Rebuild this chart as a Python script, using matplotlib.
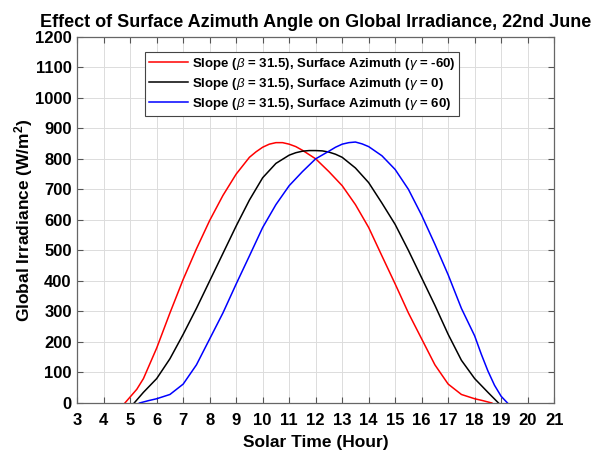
import numpy as np
from matplotlib import pyplot as plt

plt.rcParams['font.family'] = ['Liberation Sans', 'DejaVu Sans']
plt.rcParams['mathtext.fontset'] = 'custom'
plt.rcParams['mathtext.rm'] = 'Liberation Sans:bold'
plt.rcParams['mathtext.it'] = 'Liberation Sans:italic'
plt.rcParams['mathtext.bf'] = 'Liberation Sans:bold'

# solar time (hour) and global irradiance (W/m^2)
timeWest = [4.8, 5.0, 5.25, 5.5, 5.75, 6.0, 6.5, 7.0, 7.5, 8.0, 8.5, 9.0, 9.5,
            9.75, 10.0, 10.25, 10.5, 10.75, 11.0, 11.25, 11.5, 12.0, 12.5, 13.0,
            13.5, 14.0, 14.5, 15.0, 15.5, 16.0, 16.5, 17.0, 17.5, 18.0, 18.3, 18.65]
irrWest = [0, 20, 45, 80, 130, 180, 295, 405, 505, 598, 680, 750, 805,
           823, 838, 848, 853, 853, 848, 840, 828, 800, 758, 712,
           650, 575, 482, 390, 295, 210, 125, 62, 28, 14, 8, 0]

timeSouth = [5.15, 5.5, 6.0, 6.5, 7.0, 7.5, 8.0, 8.5, 9.0, 9.5, 10.0, 10.5,
             11.0, 11.25, 11.5, 11.75, 12.0, 12.25, 12.5, 12.75, 13.0, 13.5,
             14.0, 14.5, 15.0, 15.5, 16.0, 16.5, 17.0, 17.5, 18.0, 18.5, 18.9]
irrSouth = [0, 35, 80, 145, 225, 310, 400, 490, 580, 665, 738, 785,
            812, 820, 825, 827, 827, 826, 822, 815, 805, 770,
            722, 655, 585, 500, 410, 320, 225, 140, 80, 35, 0]

timeEast = [5.35, 5.7, 6.0, 6.5, 7.0, 7.5, 8.0, 8.5, 9.0, 9.5, 10.0, 10.5,
            11.0, 11.5, 12.0, 12.5, 12.75, 13.0, 13.25, 13.5, 13.75, 14.0,
            14.5, 15.0, 15.5, 16.0, 16.5, 17.0, 17.5, 18.0, 18.25, 18.5,
            18.75, 19.0, 19.24]
irrEast = [0, 8, 14, 28, 62, 125, 210, 295, 390, 482, 575, 650,
           712, 758, 800, 825, 838, 848, 853, 855, 849, 840,
           810, 765, 700, 615, 520, 420, 310, 220, 160, 105,
           58, 22, 0]

labels = [r'Slope ($\beta$ = 31.5), Surface Azimuth ($\gamma$ = -60)',
          r'Slope ($\beta$ = 31.5), Surface Azimuth ($\gamma$ = 0)',
          r'Slope ($\beta$ = 31.5), Surface Azimuth ($\gamma$ = 60)']

xTicks = np.arange(3, 22, 1)
yTicks = np.arange(0, 1300, 100)

fig = plt.figure(figsize=(6.03, 4.5), dpi=100)
ax = fig.add_axes([0.128, 0.1044, 0.791, 0.814])

ax.plot(timeWest, irrWest, color='#ff0000', lw=1.1, label=labels[0])
ax.plot(timeSouth, irrSouth, color='black', lw=1.1, label=labels[1])
ax.plot(timeEast, irrEast, color='#0000ff', lw=1.1, label=labels[2])

ax.set_xlim(3, 21)
ax.set_ylim(0, 1200)
ax.set_xticks(xTicks)
ax.set_yticks(yTicks)
ax.grid(True, color='#dcdcdc', lw=0.7)
ax.set_axisbelow(True)
ax.tick_params(direction='in', top=True, right=True, length=4,
               color='#555555', labelsize=12)
ax.tick_params(axis='x', pad=7.5)
ax.tick_params(axis='y', pad=4)
for lab in ax.get_xticklabels() + ax.get_yticklabels():
    lab.set_fontweight('bold')
for sp in ax.spines.values():
    sp.set_color('#666666')
    sp.set_linewidth(0.9)

ax.set_xlabel('Solar Time (Hour)', fontsize=12.5, fontweight='bold', labelpad=5)
ax.set_ylabel(r'Global Irradiance (W/m$^2$)', fontsize=12.5, fontweight='bold', labelpad=0)
ax.set_title('Effect of Surface Azimuth Angle on Global Irradiance, 22nd June',
             fontsize=13, fontweight='bold', pad=7)

leg = ax.legend(loc='upper center', bbox_to_anchor=(0.472, 0.959),
                prop={'weight': 'bold', 'size': 9.5}, fancybox=False,
                framealpha=1, edgecolor='#444444', handlelength=2.9,
                borderpad=0.3, labelspacing=0.3, handletextpad=0.3,
                borderaxespad=0)
leg.get_frame().set_linewidth(0.8)

fig.savefig('out.png', dpi=100)
